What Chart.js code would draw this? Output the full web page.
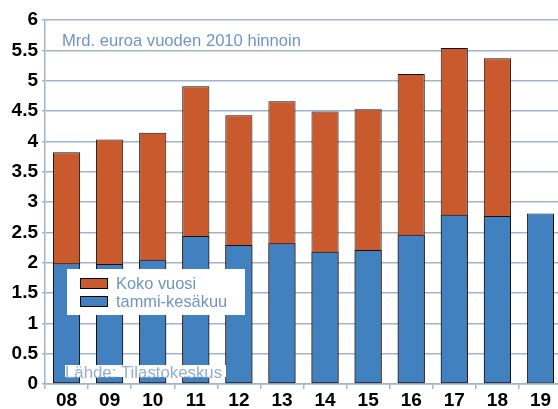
<!DOCTYPE html>
<html><head><meta charset="utf-8">
<script src="https://cdn.jsdelivr.net/npm/chart.js@4/dist/chart.umd.min.js"></script>
<style>html,body{margin:0;padding:0;overflow:hidden;background:#fff;width:558px;height:409px}#wrap{width:562px;height:409px}</style>
</head><body><div id="wrap"><canvas id="c" width="562" height="409"></canvas></div>
<script>
const categories = ['08','09','10','11','12','13','14','15','16','17','18','19'];
const kokoVuosi = [3.82, 4.03, 4.14, 4.91, 4.43, 4.66, 4.49, 4.53, 5.11, 5.54, 5.37, null];
const tammiKesakuu = [1.99, 1.98, 2.05, 2.44, 2.29, 2.32, 2.18, 2.21, 2.46, 2.79, 2.77, 2.81];
const yTicks = [0,0.5,1,1.5,2,2.5,3,3.5,4,4.5,5,5.5,6];
const unitText = 'Mrd. euroa vuoden 2010 hinnoin';
const sourceText = 'Lähde: Tilastokeskus';

const ORANGE = '#C85A2D', BLUE = '#4281C0', GRID = '#9fb5cf', TXT = '#6f95c2';

const overlay = {
  id: 'overlay',
  afterDraw(chart) {
    const ctx = chart.ctx;
    const a = chart.chartArea;
    ctx.save();
    ctx.font = '16.6px "Liberation Sans", Arial, sans-serif';
    ctx.fillStyle = TXT;
    ctx.textBaseline = 'alphabetic';
    ctx.fillText(unitText, a.left + 17, 46);
    const lx = a.left + 22, ly = 269;
    ctx.fillStyle = '#fff';
    ctx.fillRect(lx, ly, 178, 46);
    const items = [
      {label: chart.data.datasets[1].label, color: ORANGE},
      {label: chart.data.datasets[0].label, color: BLUE}
    ];
    items.forEach((it, i) => {
      const y = ly + 9 + i * 18;
      ctx.fillStyle = it.color;
      ctx.fillRect(lx + 13, y, 28, 11);
      ctx.strokeStyle = '#000';
      ctx.lineWidth = 1;
      ctx.strokeRect(lx + 13.5, y + 0.5, 27, 10);
      ctx.fillStyle = TXT;
      ctx.font = '16.4px "Liberation Sans", Arial, sans-serif';
      ctx.textBaseline = 'middle';
      ctx.fillText(it.label, lx + 49, y + 6);
    });
    ctx.fillStyle = '#fff';
    ctx.fillRect(a.left + 20, 365, 161, 12);
    ctx.fillStyle = '#93aed0';
    ctx.font = '16.8px "Liberation Sans", Arial, sans-serif';
    ctx.textBaseline = 'alphabetic';
    ctx.fillText(sourceText, a.left + 20, 378);
    ctx.restore();
  }
};

new Chart(document.getElementById('c'), {
  type: 'bar',
  data: {
    labels: categories,
    datasets: [
      {label: 'tammi-kesäkuu', data: tammiKesakuu, backgroundColor: BLUE, borderColor: '#111', borderWidth: 1, borderSkipped: false, categoryPercentage: 1, barPercentage: 0.63},
      {label: 'Koko vuosi', data: kokoVuosi, backgroundColor: ORANGE, borderColor: '#111', borderWidth: 1, borderSkipped: false, categoryPercentage: 1, barPercentage: 0.63}
    ]
  },
  options: {
    responsive: false,
    animation: false,
    devicePixelRatio: 1,
    layout: {padding: {top: 20, right: 0, left: 0, bottom: 0}},
    plugins: {legend: {display: false}, tooltip: {enabled: false}},
    scales: {
      x: {
        stacked: true,
        offset: true,
        grid: {offset: true, drawOnChartArea: false, drawTicks: true, tickLength: 5, color: GRID, lineWidth: 1.5},
        border: {display: true, color: GRID, width: 1.5},
        ticks: {color: '#000', font: {family: '"Liberation Sans", Arial, sans-serif', size: 19, weight: 'bold'}, padding: 0, maxRotation: 0, autoSkip: false},
        afterFit(s) { s.height = 25; }
      },
      y: {
        stacked: false,
        min: 0, max: 6,
        afterBuildTicks(s) { s.ticks = yTicks.map(v => ({value: v})); },
        grid: {color: GRID, lineWidth: 1.5, drawTicks: true, tickLength: 3},
        border: {display: true, color: GRID, width: 1.5},
        ticks: {color: '#000', font: {family: '"Liberation Sans", Arial, sans-serif', size: 19, weight: 'bold'}, padding: 4, callback: v => String(v)},
        afterFit(s) { s.width = 45; }
      }
    }
  },
  plugins: [overlay]
});
</script></body></html>
